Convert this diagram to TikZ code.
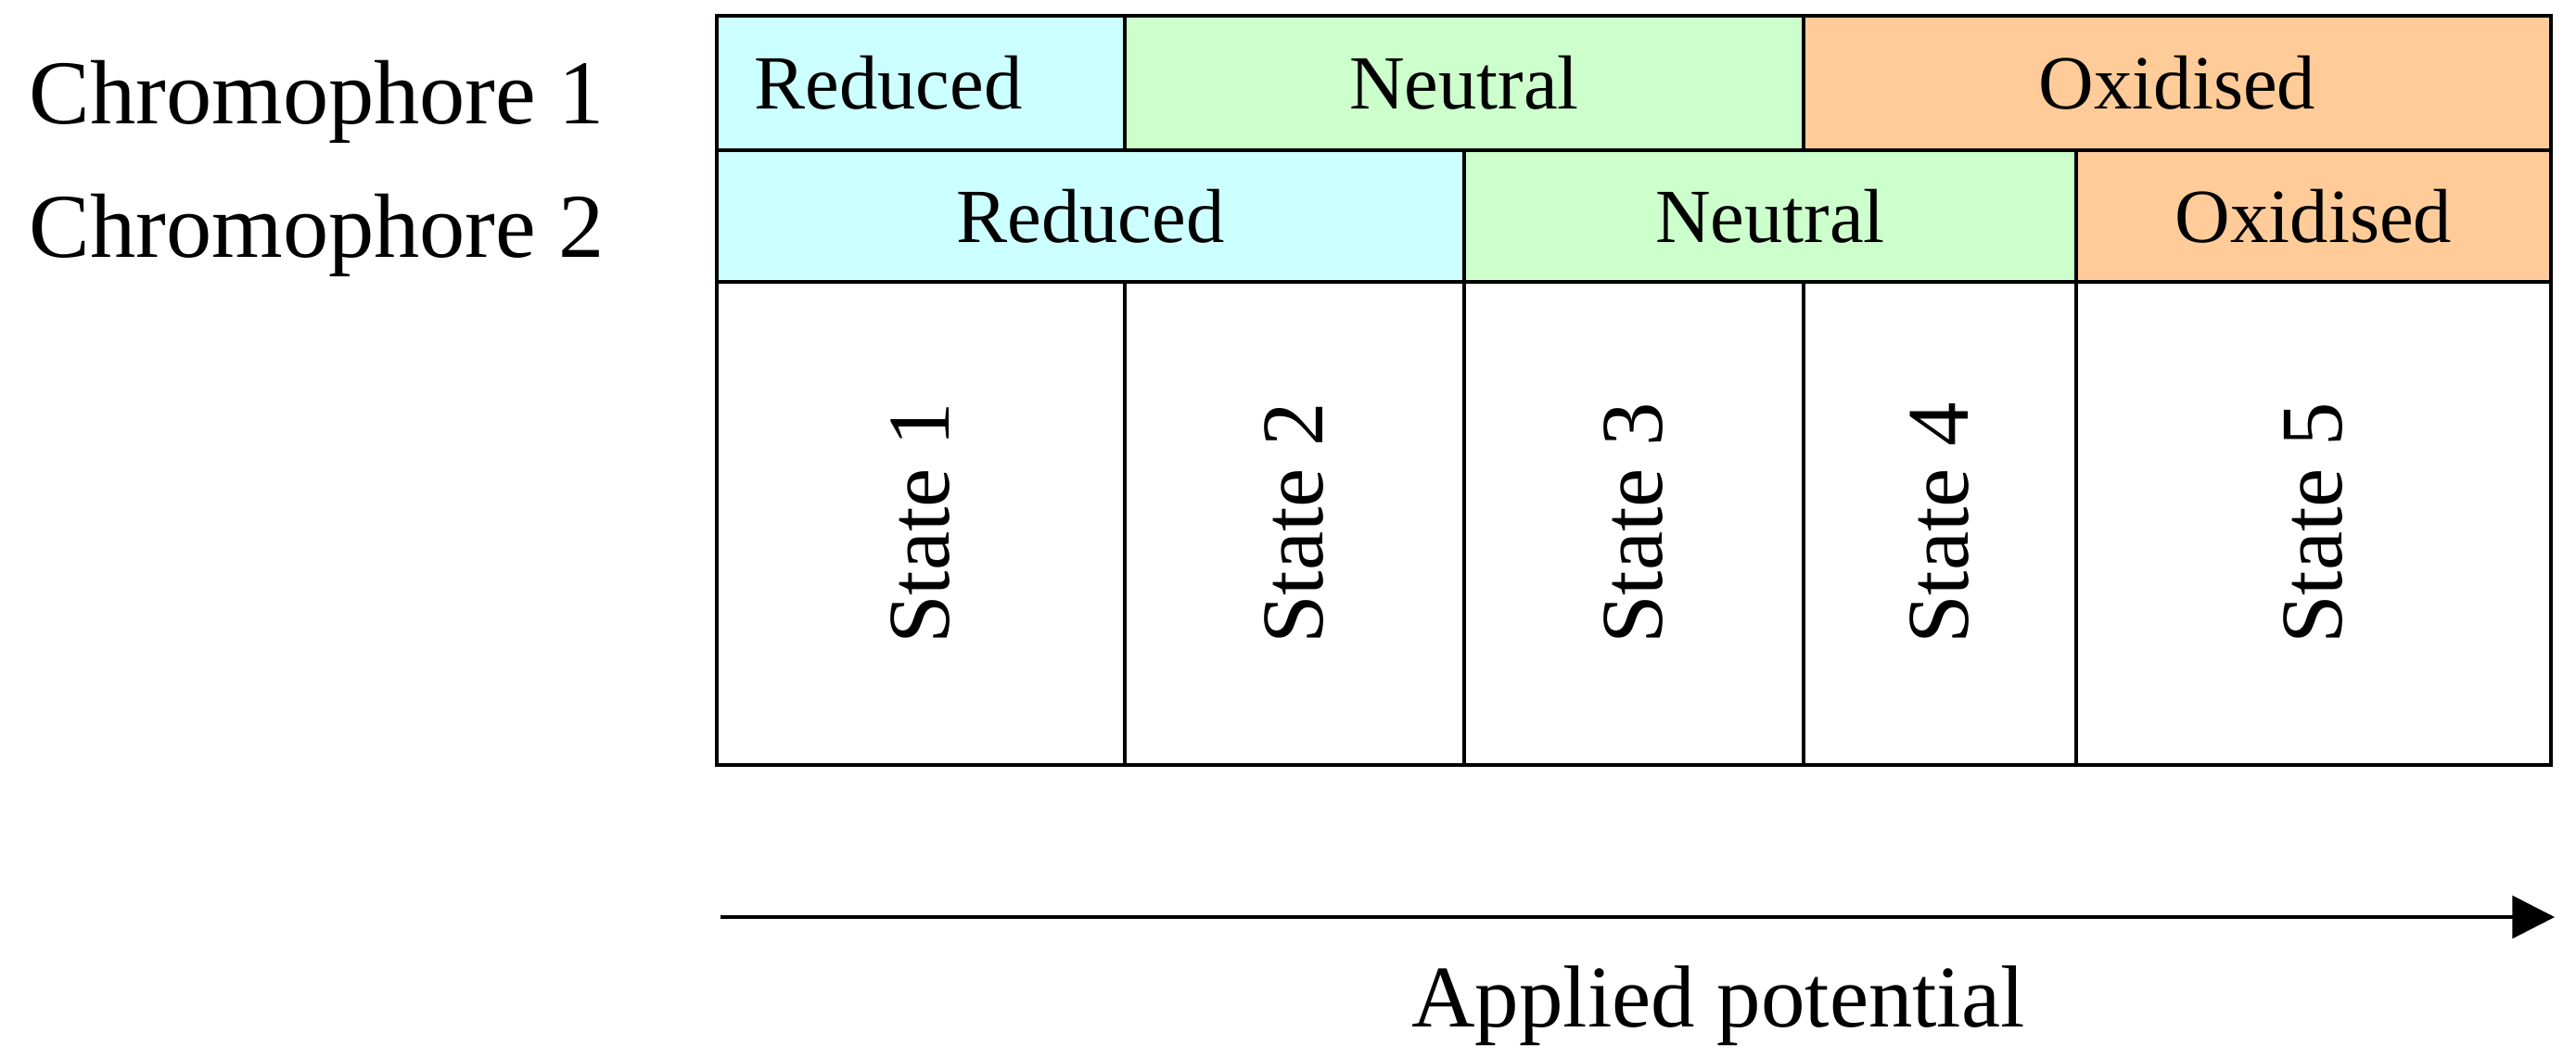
\documentclass[tikz,border=0pt]{standalone}
\usepackage{fontspec}
\setmainfont{Liberation Serif}
\usetikzlibrary{arrows.meta}
\definecolor{redcol}{HTML}{CCFFFF}
\definecolor{neucol}{HTML}{CCFFCC}
\definecolor{oxcol}{HTML}{FFCC99}
\tikzset{
  cell/.style={draw, line width=0.9pt, inner sep=0pt,
    font=\fontsize{23.5}{28}\selectfont},
  statecell/.style={cell, fill=white, rotate=90, minimum width=5.21cm,
    font=\fontsize{27}{32}\selectfont},
  rowlabel/.style={anchor=base west, inner sep=0pt,
    font=\fontsize{28}{34}\selectfont}
}
\begin{document}
\begin{tikzpicture}
      \useasboundingbox (0,0) rectangle (27.78,-11.40);
      % row labels
      \node[rowlabel] (chrom1) at (0.31,-1.33) {Chromophore 1};
      \node[rowlabel] (chrom2) at (0.31,-2.77) {Chromophore 2};
      % chromophore 1
      \node[cell, fill=redcol, minimum width=4.40cm, minimum height=1.45cm,
        execute at begin node={\hspace*{-0.7cm}}] (red1) at (9.93,-0.895) {Reduced};
      \node[cell, fill=neucol, minimum width=7.32cm, minimum height=1.45cm] (neu1) at (15.79,-0.895) {Neutral};
      \node[cell, fill=oxcol, minimum width=8.06cm, minimum height=1.45cm] (ox1) at (23.48,-0.895) {Oxidised};
      % chromophore 2
      \node[cell, fill=redcol, minimum width=8.06cm, minimum height=1.42cm] (red2) at (11.76,-2.33) {Reduced};
      \node[cell, fill=neucol, minimum width=6.60cm, minimum height=1.42cm] (neu2) at (19.09,-2.33) {Neutral};
      \node[cell, fill=oxcol, minimum width=5.12cm, minimum height=1.42cm] (ox2) at (24.95,-2.33) {Oxidised};
      % states
      \node[statecell, minimum height=4.40cm] (s1) at (9.93,-5.645) {State 1};
      \node[statecell, minimum height=3.66cm] (s2) at (13.96,-5.645) {State 2};
      \node[statecell, minimum height=3.66cm] (s3) at (17.62,-5.645) {State 3};
      \node[statecell, minimum height=2.94cm] (s4) at (20.92,-5.645) {State 4};
      \node[statecell, minimum height=5.12cm] (s5) at (24.95,-5.645) {State 5};
      % potential axis
      \coordinate (pstart) at (7.77,-9.89);
      \coordinate (pend) at (27.55,-9.89);
      \draw[line width=1.1pt, -{Triangle[length=13pt,width=13pt]}] (pstart) -- (pend);
      \node[anchor=base, inner sep=0pt, font=\fontsize{27}{32}\selectfont] (pot) at (18.53,-11.07) {Applied potential};
    \end{tikzpicture}
\end{document}
